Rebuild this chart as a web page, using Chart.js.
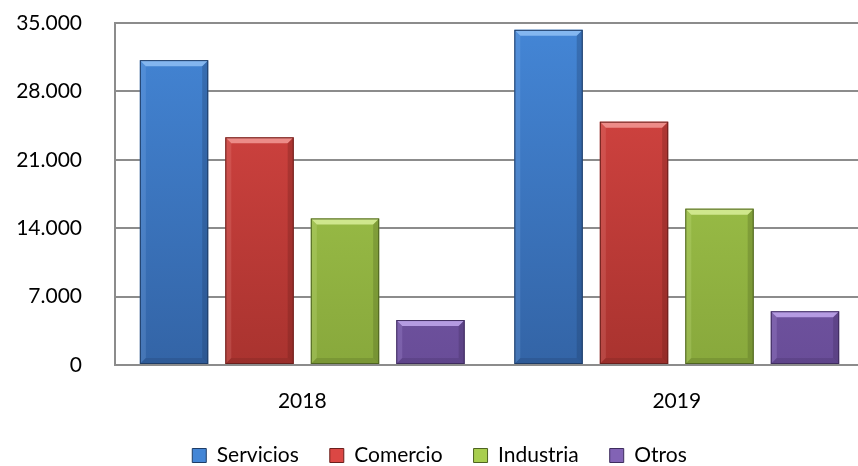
<!DOCTYPE html>
<html>
<head>
<meta charset="utf-8">
<script src="https://cdn.jsdelivr.net/npm/chart.js@4.4.1/dist/chart.umd.min.js"></script>
<style>
  html, body { margin: 0; padding: 0; background: #fff; overflow: hidden; }
  #wrap { width: 864px; height: 476px; position: relative; }
</style>
</head>
<body>
<div id="wrap"><canvas id="myChart"></canvas></div>
<script>
const years = ['2018', '2019'];
const servicios = [31200, 34300];
const comercio = [23300, 24900];
const industria = [15000, 16000];
const otros = [4600, 5500];
const yTicks = [0, 7000, 14000, 21000, 28000, 35000];

// colour sets: [top, bottom, border, highlight]
const palette = {
    Servicios: ['#4486D6', '#3364A6', '#1E3C66', '#8FC0F5'],
    Comercio: ['#DB4744', '#A9332F', '#6B1F1C', '#F29A95'],
    Industria: ['#A8CE4F', '#88A83C', '#4E6321', '#D9EE9A'],
    Otros: ['#8263B5', '#694D98', '#3E2C5E', '#C2A8EE']
};

function gradFor(name) {
    return function(context) {
        const chart = context.chart;
        const area = chart.chartArea;
        if (!area) return palette[name][0];
        const g = chart.ctx.createLinearGradient(0, area.top, 0, area.bottom);
        g.addColorStop(0, palette[name][0]);
        g.addColorStop(1, palette[name][1]);
        return g;
    };
}

function fmt(v) {
    return v.toString().replace(/\B(?=(\d{3})+(?!\d))/g, '.');
}

// little bevel like the old office charts
const bevelPlugin = {
    id: 'bevel',
    afterDatasetsDraw(chart) {
        const ctx = chart.ctx;
        chart.data.datasets.forEach((ds, i) => {
            const meta = chart.getDatasetMeta(i);
            const col = palette[ds.label];
            meta.data.forEach(bar => {
                const l = bar.x - bar.width / 2, r = bar.x + bar.width / 2;
                const t = bar.y, b = bar.base;
                const s = Math.min(6, (b - t) / 3);
                ctx.save();
                // top highlight
                ctx.beginPath();
                ctx.moveTo(l, t); ctx.lineTo(r, t); ctx.lineTo(r - s, t + s); ctx.lineTo(l + s, t + s); ctx.closePath();
                ctx.fillStyle = col[3]; ctx.globalAlpha = 0.85; ctx.fill();
                // left side
                ctx.beginPath();
                ctx.moveTo(l, t); ctx.lineTo(l + s, t + s); ctx.lineTo(l + s, b - s); ctx.lineTo(l, b); ctx.closePath();
                ctx.fillStyle = col[3]; ctx.globalAlpha = 0.2; ctx.fill();
                // right side
                ctx.beginPath();
                ctx.moveTo(r, t); ctx.lineTo(r - s, t + s); ctx.lineTo(r - s, b - s); ctx.lineTo(r, b); ctx.closePath();
                ctx.fillStyle = col[2]; ctx.globalAlpha = 0.3; ctx.fill();
                // bottom
                ctx.beginPath();
                ctx.moveTo(l, b); ctx.lineTo(r, b); ctx.lineTo(r - s, b - s); ctx.lineTo(l + s, b - s); ctx.closePath();
                ctx.fillStyle = col[2]; ctx.globalAlpha = 0.25; ctx.fill();
                ctx.globalAlpha = 1;
                ctx.strokeStyle = col[2]; ctx.lineWidth = 1;
                ctx.strokeRect(l + 0.5, t + 0.5, bar.width - 1, b - t - 1);
                ctx.restore();
            });
        });
    }
};

function makeSet(name, values) {
    return {
        label: name,
        data: values,
        backgroundColor: gradFor(name),
        borderWidth: 0,
        barPercentage: 0.8,
        categoryPercentage: 0.913
    };
}

document.addEventListener('DOMContentLoaded', function() {
    Chart.defaults.font.family = 'Lato, "Open Sans", sans-serif';
    Chart.defaults.color = '#000';
    const ctx = document.getElementById('myChart').getContext('2d');
    new Chart(ctx, {
        type: 'bar',
        data: {
            labels: years,
            datasets: [
                makeSet('Servicios', servicios),
                makeSet('Comercio', comercio),
                makeSet('Industria', industria),
                makeSet('Otros', otros)
            ]
        },
        options: {
            responsive: true,
            maintainAspectRatio: false,
            animation: false,
            layout: { padding: { left: 15, right: 0, top: 0, bottom: 0 } },
            scales: {
                x: {
                    afterFit: scale => { scale.height = 49; },
                    grid: { display: false, drawTicks: false },
                    border: { color: '#8c8c8c', width: 2 },
                    ticks: { font: { size: 21 }, padding: 24 }
                },
                y: {
                    min: 0,
                    max: 35000,
                    afterBuildTicks: scale => { scale.ticks = yTicks.map(v => ({ value: v })); },
                    afterFit: scale => {
                        scale.width = 100;
                        scale.paddingTop = 23;
                        scale.paddingBottom = 0;
                    },
                    grid: { color: '#8c8c8c', lineWidth: 2, drawTicks: false },
                    border: { color: '#8c8c8c', width: 2 },
                    ticks: { font: { size: 21 }, padding: 33, callback: v => fmt(v) }
                }
            },
            plugins: {
                legend: {
                    position: 'bottom',
                    labels: {
                        font: { size: 21, lineHeight: 1 },
                        boxWidth: 14,
                        boxHeight: 14,
                        padding: 31,
                        generateLabels: chart => chart.data.datasets.map((ds, i) => ({
                            text: ds.label,
                            fillStyle: palette[ds.label][0],
                            strokeStyle: palette[ds.label][2],
                            lineWidth: 1,
                            hidden: false,
                            datasetIndex: i
                        }))
                    }
                },
                tooltip: { enabled: false }
            }
        },
        plugins: [bevelPlugin]
    });
});
</script>
</body>
</html>
